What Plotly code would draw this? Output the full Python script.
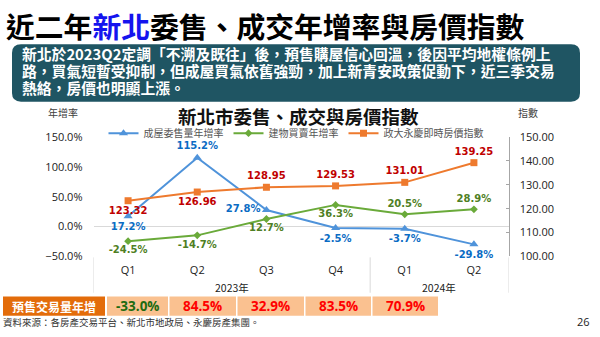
import plotly.graph_objects as go

W, H = 600, 337

# ---------------- data ----------------
years = ["2023年", "2023年", "2023年", "2023年", "2024年", "2024年"]
quarters = ["Q1", "Q2", "Q3", "Q4", "Q1", "Q2"]
sale_listing_yoy = [17.2, 115.2, 27.8, -2.5, -3.7, -29.8]      # 成屋委售量年增率
building_trade_yoy = [-24.5, -14.7, 12.7, 36.3, 20.5, 28.9]    # 建物買賣年增率
price_index = [123.32, 126.96, 128.95, 129.53, 131.01, 139.25]  # 政大永慶即時房價指數
presale_yoy = [-33.0, 84.5, 32.9, 83.5, 70.9]                  # 預售交易量年增

series_names = ["成屋委售量年增率", "建物買賣年增率", "政大永慶即時房價指數"]
title_text = "近二年<span style='color:#1414EE'>新北</span>委售、成交年增率與房價指數"
box_lines = [
    "新北於2023Q2定調「不溯及既往」後，預售購屋信心回溫，後因平均地權條例上",
    "路，買氣短暫受抑制，但成屋買氣依舊強勁，加上新青安政策促動下，近三季交易",
    "熱絡，房價也明顯上漲。",
]
chart_title = "新北市委售、成交與房價指數"
table_header = "預售交易量年增"
source_text = "資料來源：各房產交易平台、新北市地政局、永慶房產集團。"
page_no = "26"

# ---------------- helpers ----------------
def px(x):
    return x / W

def py(y):
    return 1 - y / H

CJK = "Noto Sans CJK TC"
NUM = "DejaVu Sans"

x_keys = [f"{y}{q}" for y, q in zip(years, quarters)]

blue_pos = ["bottom center", "top center", "middle left", "bottom center", "bottom center", "bottom center"]
green_pos = ["bottom center", "bottom center", "bottom center", "bottom center", "top center", "top center"]
orange_pos = ["bottom center", "bottom center", "top center", "top center", "top center", "top center"]

fig = go.Figure()
fig.add_trace(go.Scatter(
    x=x_keys, y=sale_listing_yoy, name=series_names[0],
    mode="lines+markers+text",
    line=dict(color="#4F93DA", width=2),
    marker=dict(symbol="triangle-up", size=8, color="#4F93DA"),
    text=[f"{v:.1f}%" for v in sale_listing_yoy], textposition=blue_pos,
    textfont=dict(family=NUM, size=10, color="#0B6CC4", weight="bold"),
    yaxis="y", cliponaxis=False,
))
fig.add_trace(go.Scatter(
    x=x_keys, y=building_trade_yoy, name=series_names[1],
    mode="lines+markers+text",
    line=dict(color="#6AAA3A", width=2),
    marker=dict(symbol="diamond", size=6, color="#6AAA3A"),
    text=[f"{v:.1f}%" for v in building_trade_yoy], textposition=green_pos,
    textfont=dict(family=NUM, size=10, color="#4F7F24", weight="bold"),
    yaxis="y", cliponaxis=False,
))
fig.add_trace(go.Scatter(
    x=x_keys, y=price_index, name=series_names[2],
    mode="lines+markers+text",
    line=dict(color="#EE7A2E", width=2),
    marker=dict(symbol="square", size=7, color="#EE7A2E"),
    text=[f"{v:.2f}" for v in price_index], textposition=orange_pos,
    textfont=dict(family=NUM, size=10, color="#C00000", weight="bold"),
    yaxis="y2", cliponaxis=False,
))

shapes = []
annotations = []

# headline
annotations.append(dict(xref="paper", yref="paper", x=px(4), y=py(18), xanchor="left", yanchor="middle",
                        text="<b>" + title_text + "</b>", showarrow=False,
                        font=dict(family=CJK, size=28.8, color="#000000")))

# teal rounded box
x0, x1, y0, y1, r = 12, 580, 38, 98, 9
path = (f"M {px(x0+r)},{py(y0)} L {px(x1-r)},{py(y0)} Q {px(x1)},{py(y0)} {px(x1)},{py(y0+r)} "
        f"L {px(x1)},{py(y1-r)} Q {px(x1)},{py(y1)} {px(x1-r)},{py(y1)} "
        f"L {px(x0+r)},{py(y1)} Q {px(x0)},{py(y1)} {px(x0)},{py(y1-r)} "
        f"L {px(x0)},{py(y0+r)} Q {px(x0)},{py(y0)} {px(x0+r)},{py(y0)} Z")
shapes.append(dict(type="path", xref="paper", yref="paper", path=path,
                   fillcolor="#1F5563", line=dict(width=0), layer="below"))
for i, line in enumerate(box_lines):
    annotations.append(dict(xref="paper", yref="paper", x=px(20), y=py(48 + i * 17.5),
                            xanchor="left", yanchor="middle", text="<b>" + line + "</b>",
                            showarrow=False, font=dict(family=CJK, size=14.8, color="#FFFFFF")))

# chart title and axis titles
annotations.append(dict(xref="paper", yref="paper", x=px(298), y=py(113), xanchor="center", yanchor="middle",
                        text="<b>" + chart_title + "</b>", showarrow=False,
                        font=dict(family=CJK, size=18.5, color="#111111")))
annotations.append(dict(xref="paper", yref="paper", x=px(63), y=py(109), xanchor="center", yanchor="middle",
                        text="年增率", showarrow=False, font=dict(family=CJK, size=10, color="#404040")))
annotations.append(dict(xref="paper", yref="paper", x=px(528), y=py(109), xanchor="center", yanchor="middle",
                        text="指數", showarrow=False, font=dict(family=CJK, size=10, color="#404040")))

# year group labels and dividers on the category axis
groups = []
for i, yr in enumerate(years):
    if not groups or groups[-1][0] != yr:
        groups.append([yr, i, i])
    else:
        groups[-1][2] = i
div_pos = [-0.5] + [g[2] + 0.5 for g in groups]
for d in div_pos:
    shapes.append(dict(type="line", xref="x", yref="paper", x0=d, x1=d, y0=py(298), y1=py(261),
                       line=dict(color="#D9D9D9", width=1)))
for yr, a, b in groups:
    annotations.append(dict(xref="x", yref="paper", x=(a + b) / 2, y=py(292), xanchor="center", yanchor="middle",
                            text=yr, showarrow=False, font=dict(family=CJK, size=10.5, color="#222222")))

# table below chart
ty0, ty1 = 302, 322
shapes.append(dict(type="rect", xref="paper", yref="paper", x0=px(3), x1=px(105), y0=py(ty1), y1=py(ty0),
                   fillcolor="#E36C0A", line=dict(width=0)))
annotations.append(dict(xref="paper", yref="paper", x=px(54), y=py(312), xanchor="center", yanchor="middle",
                        text="<b>" + table_header + "</b>", showarrow=False,
                        font=dict(family=CJK, size=12, color="#FFFFFF")))
cell_bounds = [(107, 168), (169.5, 236), (237.5, 304), (305.5, 371), (372.5, 438)]
for (cx0, cx1), v in zip(cell_bounds, presale_yoy):
    shapes.append(dict(type="rect", xref="paper", yref="paper", x0=px(cx0), x1=px(cx1), y0=py(ty1), y1=py(ty0),
                       fillcolor="#FAC190", line=dict(width=0)))
    col = "#1E6B10" if v < 0 else "#FF0000"
    annotations.append(dict(xref="paper", yref="paper", x=px((cx0 + cx1) / 2), y=py(312),
                            xanchor="center", yanchor="middle", text=f"<b>{v:.1f}%</b>", showarrow=False,
                            font=dict(family="Open Sans", size=13.5, color=col)))

# source and page number
annotations.append(dict(xref="paper", yref="paper", x=px(1), y=py(329), xanchor="left", yanchor="middle",
                        text=source_text, showarrow=False, font=dict(family=CJK, size=9.5, color="#333333")))
annotations.append(dict(xref="paper", yref="paper", x=px(592), y=py(328), xanchor="right", yanchor="middle",
                        text=page_no, showarrow=False, font=dict(family="Open Sans", size=11, color="#222222")))

fig.update_layout(
    width=W, height=H,
    margin=dict(l=0, r=0, t=0, b=0),
    paper_bgcolor="#FFFFFF", plot_bgcolor="#FFFFFF",
    showlegend=True,
    legend=dict(orientation="h", x=px(296), xanchor="center", y=py(131), yanchor="middle",
                font=dict(family=CJK, size=10, color="#555555"), bgcolor="rgba(0,0,0,0)",
                itemwidth=30, tracegroupgap=0),
    xaxis=dict(domain=[px(93.5), px(508.5)], type="category", range=[-0.5, len(x_keys) - 0.5],
               tickmode="array", tickvals=x_keys, ticktext=quarters,
               showgrid=False, zeroline=False, showline=False, ticks="",
               ticklabelstandoff=6,
               tickfont=dict(family="Open Sans", size=11, color="#222222")),
    yaxis=dict(domain=[py(260), py(135)], range=[-50, 150], dtick=50, tickformat=".1f", ticksuffix="%",
               showgrid=False, zeroline=True, zerolinecolor="#D9D9D9", zerolinewidth=1,
               showline=False, ticks="", ticklabelstandoff=10,
               tickfont=dict(family="Open Sans", size=11, color="#222222")),
    yaxis2=dict(overlaying="y", side="right", anchor="x", range=[100, 150], dtick=10, tickformat=".2f",
                showgrid=False, zeroline=False, showline=True, linecolor="#A6A6A6", linewidth=1,
                ticks="inside", ticklen=3, tickcolor="#A6A6A6", ticklabelstandoff=8,
                tickfont=dict(family="Open Sans", size=11, color="#222222")),
    shapes=shapes, annotations=annotations,
)

fig.write_html("out.html")
